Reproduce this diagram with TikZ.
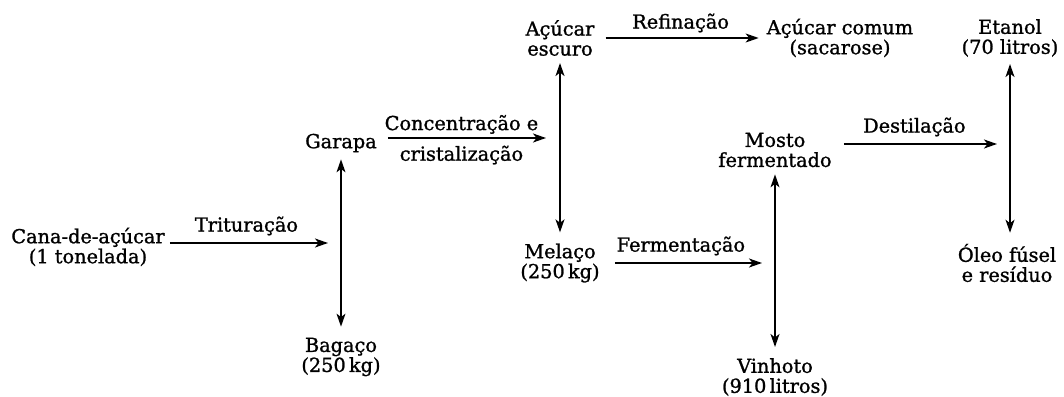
\documentclass[tikz,border=0pt]{standalone}
\usepackage{fontspec}
\setmainfont{DejaVu Serif}[FakeBold=1.2]
\usetikzlibrary{arrows.meta}
\tikzset{
  etapa/.style={align=center, inner sep=0pt, font=\fontsize{19.3bp}{20bp}\selectfont},
  rotulo/.style={align=center, inner sep=0pt, font=\fontsize{19.3bp}{20bp}\selectfont},
  seta/.style={-{Stealth[length=13bp,width=9bp,inset=3.5bp]}, line width=1.4bp},
  dupla/.style={{Stealth[length=13bp,width=9bp,inset=3.5bp]}-{Stealth[length=13bp,width=9bp,inset=3.5bp]},
    line width=1.4bp, shorten <=7bp, shorten >=11bp}
}
\begin{document}
\begin{tikzpicture}[x=1bp,y=1bp]
\useasboundingbox (0,0) rectangle (1064,396);
% produtos
\node[etapa] (cana) at (88,149) {Cana-de-açúcar\\(1 tonelada)};
\node[etapa] (garapa) at (341,253) {Garapa};
\node[etapa] (bagaco) at (341,39) {Bagaço\\(250\,kg)};
\node[etapa] (escuro) at (560,358) {Açúcar\\escuro};
\node[etapa] (melaco) at (560,133) {Melaço\\(250\,kg)};
\node[etapa] (comum) at (840,358) {Açúcar comum\\(sacarose)};
\node[etapa] (mosto) at (775,246) {Mosto\\fermentado};
\node[etapa] (vinhoto) at (775,19) {Vinhoto\\(910\,litros)};
\node[etapa] (etanol) at (1010,358) {Etanol\\(70 litros)};
\node[etapa] (oleo) at (1007,133) {Óleo fúsel\\e resíduo};
% pontas livres
\coordinate (t1) at (328,153);
\coordinate (t2) at (546,258);
\coordinate (t3) at (762,133);
\coordinate (t4) at (997,252);
% processos
\draw[seta, shorten <=5bp] (cana.east |- t1) -- node[rotulo, above=7bp]{Trituração} (t1);
\draw[seta, shorten <=11bp] (garapa.east |- t2) -- node[rotulo, above=3.5bp]{Concentração e}
  node[rotulo, below=7bp]{cristalização} (t2);
\draw[seta, shorten <=11bp, shorten >=8bp] (escuro) -- node[rotulo, above=5bp]{Refinação} (comum);
\draw[seta, shorten <=15bp] (melaco.east |- t3) -- node[rotulo, above=7bp]{Fermentação} (t3);
\draw[seta, shorten <=12bp] (mosto.east |- t4) -- node[rotulo, above=7bp]{Destilação} (t4);
% separacoes
\draw[dupla] (garapa) -- (bagaco);
\draw[dupla] (escuro) -- (melaco);
\draw[dupla] (mosto) -- (vinhoto);
\draw[dupla] (etanol.south) -- (etanol.south |- oleo.north);
\end{tikzpicture}
\end{document}
